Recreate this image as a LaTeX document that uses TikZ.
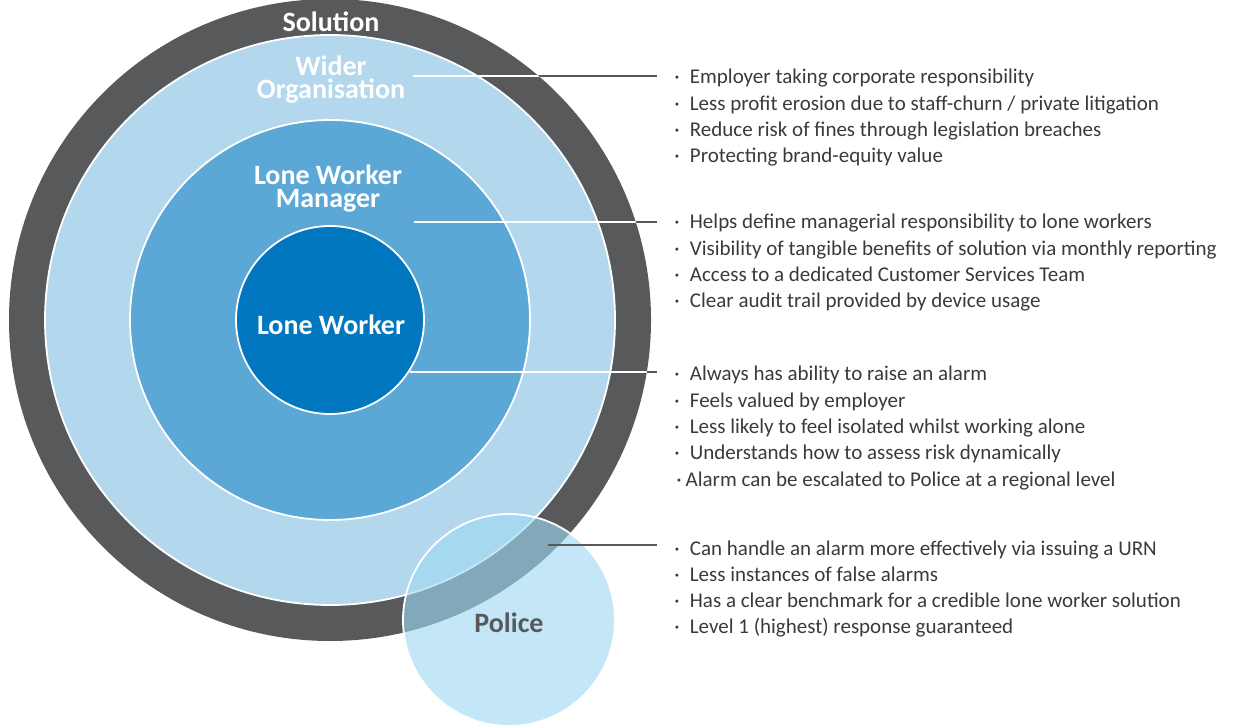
\documentclass[tikz,border=0pt]{standalone}
\usepackage{fontspec}
\setmainfont{Carlito}

\definecolor{ringgray}{HTML}{58595B}
\definecolor{orgblue}{HTML}{B3D7EC}
\definecolor{mgrblue}{HTML}{5BA7D6}
\definecolor{workerblue}{HTML}{0077BF}
\definecolor{policeblue}{RGB}{159,217,244}
\definecolor{itemgray}{HTML}{3A3A3A}

\tikzset{
  ring/.style={draw=white, line width=0.9pt},
  ringlabel/.style={font=\fontsize{14}{11.5}\selectfont\bfseries, text=white, align=center, inner sep=0pt},
  lead/.style={draw=ringgray, line width=0.6pt},
  itemtext/.style={anchor=base west, inner sep=0pt, font=\fontsize{10.5}{13}\selectfont, text=itemgray},
  item/.style={itemtext, execute at begin node={\makebox[7.75pt][l]{·}}},
}

\begin{document}
\begin{tikzpicture}[x=0.5pt, y=-0.5pt]
    \useasboundingbox (0,0) rectangle (1235,726);

    % Define points
    \coordinate (centre) at (330,320);
    \coordinate (police-centre) at (509,620);

    % Draw the nested circles
    \fill[ringgray] (centre) circle[radius=160.5pt];
    \filldraw[ring, fill=orgblue] (centre) circle[radius=142.5pt];
    \filldraw[ring, fill=mgrblue] (centre) circle[radius=100pt];
    \filldraw[ring, fill=workerblue] (centre) circle[radius=47pt];

    % Police overlaps the outer rings
    \filldraw[ring, fill=policeblue, fill opacity=0.62] (police-centre) circle[radius=53pt];

    % Label the circles
    \node[ringlabel] (solution) at (331,22) {Solution};
    \node[ringlabel] (wider) at (331,80) {Wider\\Organisation};
    \node[ringlabel] (manager) at (328,189) {Lone Worker\\Manager};
    \node[ringlabel] (worker) at (331,325) {Lone Worker};
    \node[ringlabel, text=ringgray] (police) at (509,623) {Police};

    % Benefit lists
    \foreach \txt [count=\i] in {Employer taking corporate responsibility,
        Less profit erosion due to staff-churn / private litigation,
        Reduce risk of fines through legislation breaches,
        Protecting brand-equity value}
      \node[item] (org-\i) at (674,{84+26.3*(\i-1)}) {\txt};
    \foreach \txt [count=\i] in {Helps define managerial responsibility to lone workers,
        Visibility of tangible benefits of solution via monthly reporting,
        Access to a dedicated Customer Services Team,
        Clear audit trail provided by device usage}
      \node[item] (mgr-\i) at (674,{229+26.3*(\i-1)}) {\txt};
    \foreach \txt [count=\i] in {Always has ability to raise an alarm,
        Feels valued by employer,
        Less likely to feel isolated whilst working alone,
        Understands how to assess risk dynamically}
      \node[item] (wrk-\i) at (674,{381+26.3*(\i-1)}) {\txt};
    \node[itemtext] (wrk-5) at (676,486) {·\hspace{2pt}Alarm can be escalated to Police at a regional level};
    \foreach \txt [count=\i] in {Can handle an alarm more effectively via issuing a URN,
        Less instances of false alarms,
        Has a clear benchmark for a credible lone worker solution,
        Level 1 (highest) response guaranteed}
      \node[item] (pol-\i) at (674,{555+26.3*(\i-1)}) {\txt};

    % Leader lines: white inside the solution ring, gray outside
    \coordinate (org-start) at (413,76);
    \coordinate (mgr-start) at (414,222);
    \coordinate (wrk-start) at (410,372);
    \coordinate (pol-start) at (548,545);
    \draw[lead, shorten >=8.5pt] (org-start) -- (org-start -| org-1.west);
    \draw[lead, shorten >=8.5pt] (mgr-start) -- (mgr-start -| mgr-1.west);
    \draw[lead, shorten >=8.5pt] (wrk-start) -- (wrk-start -| wrk-1.west);
    \draw[lead, shorten >=8.5pt] (pol-start) -- (pol-start -| pol-1.west);
    \begin{scope}
      \clip (centre) circle[radius=160.5pt];
      \draw[lead, draw=white] (org-start) -- (org-start -| org-1.west);
      \draw[lead, draw=white] (mgr-start) -- (mgr-start -| mgr-1.west);
      \draw[lead, draw=white] (wrk-start) -- (wrk-start -| wrk-1.west);
    \end{scope}
\end{tikzpicture}
\end{document}
